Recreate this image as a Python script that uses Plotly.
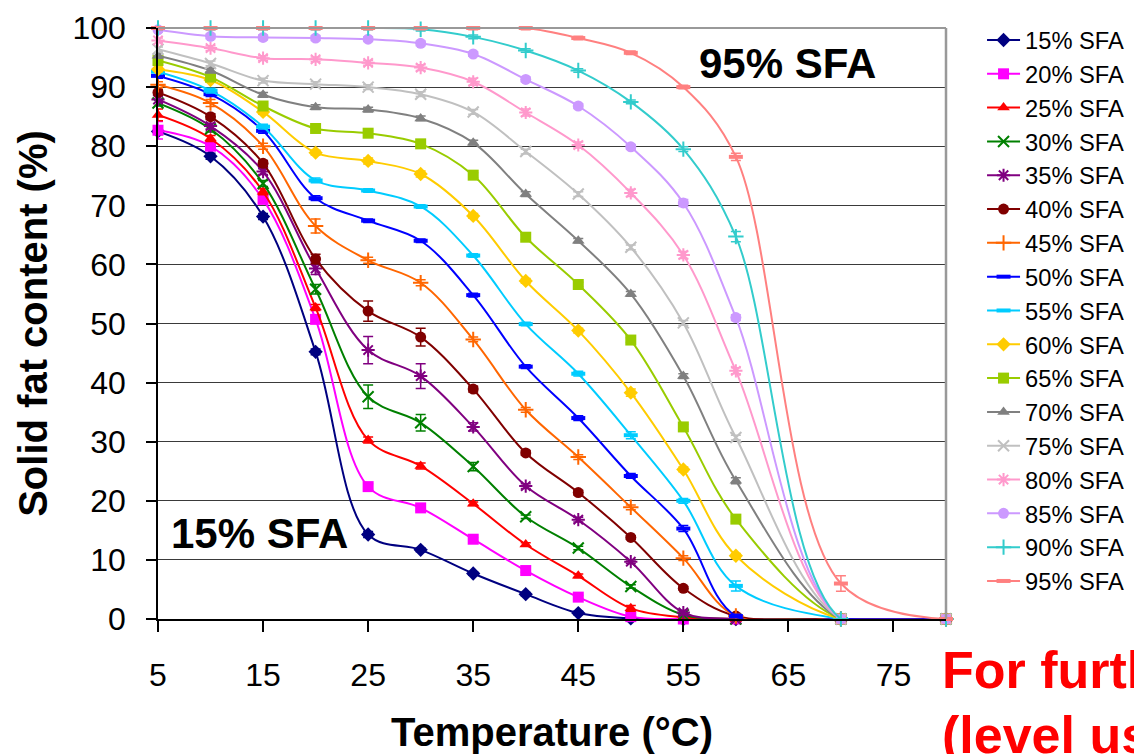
import plotly.graph_objects as go

temps = [5, 10, 15, 20, 25, 30, 35, 40, 45, 50, 55, 60, 70, 80]
x_tick_vals = [5, 15, 25, 35, 45, 55, 65, 75]
y_tick_vals = [0, 10, 20, 30, 40, 50, 60, 70, 80, 90, 100]

series_names = ["15% SFA", "20% SFA", "25% SFA", "30% SFA", "35% SFA", "40% SFA",
                "45% SFA", "50% SFA", "55% SFA", "60% SFA", "65% SFA", "70% SFA",
                "75% SFA", "80% SFA", "85% SFA", "90% SFA", "95% SFA"]

sfa15 = [82.5, 78.3, 68.1, 45.2, 14.3, 11.7, 7.7, 4.2, 1.0, 0.1, 0, 0, 0, 0]
sfa20 = [82.7, 80.0, 71.0, 50.7, 22.4, 18.8, 13.5, 8.2, 3.7, 0.4, 0, 0, 0, 0]
sfa25 = [85.3, 81.3, 72.3, 52.7, 30.3, 25.9, 19.5, 12.6, 7.3, 1.8, 0.3, 0, 0, 0]
sfa30 = [87.3, 82.9, 73.7, 55.8, 37.6, 33.2, 25.8, 17.3, 12.0, 5.5, 0.7, 0, 0, 0]
sfa35 = [87.9, 83.4, 75.7, 59.3, 45.5, 41.1, 32.5, 22.5, 16.8, 9.7, 1.1, 0, 0, 0]
sfa40 = [89.1, 85.0, 77.1, 60.9, 52.1, 47.7, 38.9, 28.1, 21.4, 13.8, 5.2, 0.5, 0, 0]
sfa45 = [90.4, 87.3, 80.0, 66.5, 60.7, 56.9, 47.3, 35.4, 27.4, 18.9, 10.3, 0.5, 0, 0]
sfa50 = [91.9, 88.8, 82.6, 71.2, 67.4, 64.0, 54.8, 42.7, 34.0, 24.2, 15.3, 0.5, 0, 0]
sfa55 = [92.6, 89.4, 83.3, 74.2, 72.5, 69.8, 61.5, 49.9, 41.5, 31.1, 20.0, 5.6, 0, 0]
sfa60 = [93.0, 91.2, 85.8, 78.9, 77.5, 75.3, 68.2, 57.2, 48.8, 38.3, 25.3, 10.7, 0, 0]
sfa65 = [94.5, 91.7, 86.8, 83.0, 82.2, 80.4, 75.1, 64.6, 56.6, 47.2, 32.5, 16.9, 0, 0]
sfa70 = [95.3, 92.8, 88.7, 86.6, 86.2, 84.7, 80.6, 71.9, 64.0, 55.0, 41.1, 23.4, 0, 0]
sfa75 = [96.4, 94.0, 91.1, 90.5, 90.0, 88.8, 85.8, 79.1, 71.9, 62.9, 50.1, 30.7, 0, 0]
sfa80 = [97.9, 96.6, 94.9, 94.7, 94.1, 93.3, 90.9, 85.7, 80.2, 72.1, 61.6, 42.0, 0, 0]
sfa85 = [99.7, 98.6, 98.4, 98.3, 98.1, 97.4, 95.6, 91.3, 86.8, 79.9, 70.4, 51.0, 0, 0]
sfa90 = [100, 100, 100, 100, 100, 99.8, 98.5, 96.2, 92.8, 87.5, 79.5, 64.7, 0, 0]
sfa95 = [100, 100, 100, 100, 100, 100, 100, 100, 98.3, 95.8, 90.0, 78.2, 6.0, 0]

err15 = [0.5, 0.5, 0.5, 0.5, 0.5, 0.3, 0.3, 0.3, 0.3, 0.2, 0, 0, 0, 0]
err20 = [1.5, 0.5, 0.5, 0.6, 0.5, 0.5, 0.3, 0.3, 0.3, 0.2, 0, 0, 0, 0]
err25 = [1.0, 0.5, 0.5, 0.5, 0.5, 0.5, 0.3, 0.3, 0.3, 0.5, 0.2, 0, 0, 0]
err30 = [0.5, 0.5, 0.5, 0.8, 2.0, 1.4, 0.7, 0.3, 0.3, 0.3, 0.2, 0, 0, 0]
err35 = [0.5, 0.5, 0.5, 1.0, 2.3, 2.1, 0.7, 0.4, 0.4, 0.3, 0.4, 0, 0, 0]
err40 = [0.5, 0.5, 0.5, 0.8, 1.7, 1.5, 0.5, 0.4, 0.4, 0.3, 0.3, 0.3, 0, 0]
err45 = [0.5, 0.6, 0.5, 1.2, 0.5, 0.5, 0.4, 0.4, 0.4, 0.4, 0.4, 0.3, 0, 0]
err50 = [0.4, 0.4, 0.4, 0.4, 0.3, 0.3, 0.3, 0.3, 0.4, 0.4, 0.5, 0.3, 0, 0]
err55 = [0.4, 0.4, 0.4, 0.4, 0.3, 0.3, 0.3, 0.3, 0.4, 0.6, 0.4, 0.85, 0, 0]
err60 = [0.4, 0.4, 0.4, 0.4, 0.5, 0.5, 0.4, 0.4, 0.4, 0.6, 0.4, 0.4, 0, 0]
err65 = [0.4, 0.4, 0.4, 0.4, 0.4, 0.4, 0.4, 0.4, 0.4, 0.4, 0.4, 0.4, 0, 0]
err70 = [0.4, 0.4, 0.4, 0.4, 0.4, 0.4, 0.4, 0.4, 0.4, 0.4, 0.4, 0.5, 0, 0]
err75 = [0.4, 0.4, 0.4, 0.4, 0.4, 0.4, 0.4, 0.4, 0.4, 0.4, 0.4, 0.4, 0, 0]
err80 = [0.4, 0.4, 0.4, 0.4, 0.4, 0.5, 0.6, 0.6, 0.5, 0.6, 0.6, 0.5, 0, 0]
err85 = [0.4, 0.4, 0.4, 0.4, 0.4, 0.4, 0.4, 0.4, 0.4, 0.4, 0.6, 0.5, 0, 0]
err90 = [0.3, 0.3, 0.3, 0.3, 0.3, 0.3, 0.3, 0.3, 0.3, 0.3, 0.4, 0.85, 0, 0]
err95 = [0.3, 0.3, 0.3, 0.3, 0.3, 0.3, 0.3, 0.3, 0.3, 0.3, 0.3, 0.6, 1.3, 0]

values = [sfa15, sfa20, sfa25, sfa30, sfa35, sfa40, sfa45, sfa50, sfa55,
          sfa60, sfa65, sfa70, sfa75, sfa80, sfa85, sfa90, sfa95]
errors = [err15, err20, err25, err30, err35, err40, err45, err50, err55,
          err60, err65, err70, err75, err80, err85, err90, err95]

colors = ["#000080", "#FF00FF", "#FF0000", "#008000", "#800080", "#800000",
          "#FF6600", "#0000FF", "#00CCFF", "#FFCC00", "#99CC00", "#808080",
          "#C0C0C0", "#FF99CC", "#CC99FF", "#33CCCC", "#FF8080"]
symbols = ["diamond", "square", "triangle-up", "x-thin-open", "asterisk-open", "circle",
           "cross-thin-open", "line-ew-open", "line-ew-open", "diamond", "square",
           "triangle-up", "x-thin-open", "asterisk-open", "circle", "cross-thin-open",
           "line-ew-open"]

FONT = "Liberation Sans, Arial, sans-serif"

fig = go.Figure()
for name, vals, errs, col, sym in zip(series_names, values, errors, colors, symbols):
    is_open = sym.endswith("-open")
    lw = 4 if sym.startswith("line-ew") else (2 if is_open else 0)
    fig.add_trace(go.Scatter(
        x=temps, y=vals, name=name, mode="lines+markers",
        line=dict(color=col, width=2, shape="spline", smoothing=1.0),
        marker=dict(symbol=sym, size=11 if not sym.startswith("line-ew") else 10,
                    color=col, line=dict(width=lw, color=col)),
        error_y=dict(type="data", array=errs, visible=True, color=col,
                     thickness=1.5, width=5),
        cliponaxis=False,
    ))

fig.update_layout(
    width=1134, height=754,
    margin=dict(l=157.5, r=187.5, t=28, b=135, autoexpand=False),
    paper_bgcolor="white", plot_bgcolor="white",
    font=dict(family=FONT, color="black"),
    showlegend=True,
    legend=dict(xref="container", yref="container",
                x=0.866, y=0.976, xanchor="left", yanchor="top",
                font=dict(family=FONT, size=23.7, color="black"),
                bgcolor="rgba(0,0,0,0)", borderwidth=0,
                itemwidth=33, tracegroupgap=0, maxheight=740),
    xaxis=dict(range=[5, 80], tickmode="array", tickvals=x_tick_vals,
               ticks="outside", ticklen=11, tickwidth=1.5, tickcolor="black",
               showgrid=False, zeroline=False, showline=True, linecolor="black",
               linewidth=1.5, tickfont=dict(family=FONT, size=32),
               ticklabelstandoff=16,
               title=dict(text="<b>Temperature (°C)</b>", standoff=28,
                          font=dict(family=FONT, size=40))),
    yaxis=dict(range=[0, 100], tickmode="array", tickvals=y_tick_vals,
               ticks="outside", ticklen=10, tickwidth=1.5, tickcolor="black",
               showgrid=True, gridcolor="#3a3a3a", gridwidth=1.3,
               zeroline=False, showline=True, linecolor="black", linewidth=1.5,
               tickfont=dict(family=FONT, size=32), ticklabelstandoff=14,
               title=dict(text="<b>Solid fat content (%)</b>", standoff=12,
                          font=dict(family=FONT, size=40))),
    shapes=[
        dict(type="line", xref="paper", yref="paper", x0=0, x1=1, y0=1, y1=1,
             line=dict(color="#999999", width=2)),
        dict(type="line", xref="paper", yref="paper", x0=1, x1=1, y0=0, y1=1,
             line=dict(color="#999999", width=2.5)),
    ],
    annotations=[
        dict(x=6.0, y=14.4, xref="x", yref="y", text="<b>15% SFA</b>",
             showarrow=False, xanchor="left", yanchor="middle",
             font=dict(family=FONT, size=42, color="black")),
        dict(x=56.3, y=93.95, xref="x", yref="y", text="<b>95% SFA</b>",
             showarrow=False, xanchor="left", yanchor="middle",
             font=dict(family=FONT, size=42, color="black")),
        dict(x=0.992, y=-0.0855, xref="paper", yref="paper",
             text="<b>For further details</b>",
             showarrow=False, xanchor="left", yanchor="middle",
             font=dict(family=FONT, size=52, color="#FF0000")),
        dict(x=0.992, y=-0.197, xref="paper", yref="paper",
             text="<b>(level used)</b>",
             showarrow=False, xanchor="left", yanchor="middle",
             font=dict(family=FONT, size=52, color="#FF0000")),
    ],
)

fig.write_html("out.html")
